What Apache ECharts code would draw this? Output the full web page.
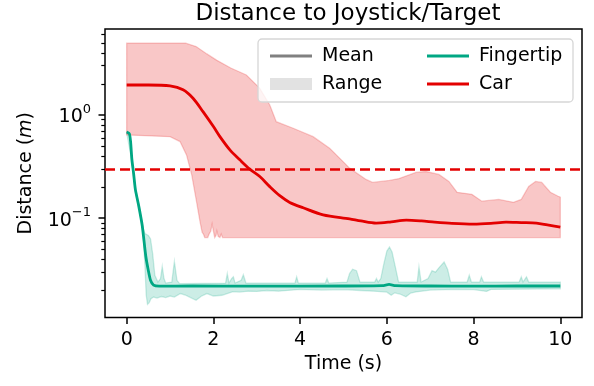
<!DOCTYPE html>
<html><head><meta charset="utf-8">
<script src="https://cdn.jsdelivr.net/npm/echarts@6/dist/echarts.min.js"></script>
<style>html,body{margin:0;padding:0;background:#fff}#c{width:594px;height:386px}</style>
</head><body><div id="c"></div>
<script>
// ---------- data ----------
const xTicks = [0, 2, 4, 6, 8, 10];
const yMajorTicks = [0.1, 1];
const yMinorTicks = [0.02,0.03,0.04,0.05,0.06,0.07,0.08,0.09,0.2,0.3,0.4,0.5,0.6,0.7,0.8,0.9,2,3,4,5,6];
const threshold = 0.3;

const carTime = [0,0.5,1.0,1.3,1.53,1.76,2.0,2.15,2.38,2.61,2.84,3.07,3.3,3.53,3.76,4.07,4.53,5.14,5.4,5.75,6.1,6.45,6.8,7.1,7.5,8.0,8.4,8.75,9.1,9.45,9.7,10.0];
const carMean = [1.95,1.95,1.91,1.75,1.45,1.076,0.771,0.616,0.458,0.367,0.298,0.253,0.202,0.165,0.142,0.126,0.1077,0.0984,0.094,0.0895,0.092,0.0957,0.094,0.0915,0.089,0.0876,0.089,0.0915,0.0905,0.0895,0.086,0.0819];

const carUpperTime = [0,1.36,1.6,1.85,2.08,2.4,2.76,3.07,3.3,3.45,3.84,4.3,4.68,4.99,5.14,5.52,5.67,6.06,6.28,6.67,6.9,7.2,7.43,7.62,7.96,8.19,8.58,8.92,9.1,9.27,9.43,9.57,9.77,9.95,10];
const carUpper = [4.95,4.95,4.6,3.9,3.38,2.85,2.44,1.81,1.25,0.861,0.743,0.616,0.476,0.353,0.305,0.237,0.222,0.232,0.242,0.277,0.283,0.265,0.227,0.178,0.17,0.146,0.152,0.1425,0.152,0.203,0.227,0.222,0.178,0.163,0.16];
const carLowerTime = [0,1.0,1.23,1.38,1.5,1.61,1.69,1.74,1.77,1.8,1.87,1.9,1.94,1.97,2.0,2.03,2.06,2.08,2.11,2.15,2.18,2.21,10];
const carLower = [0.64,0.616,0.552,0.41,0.263,0.145,0.093,0.073,0.07,0.0648,0.0648,0.07,0.075,0.0876,0.075,0.0648,0.068,0.075,0.0665,0.0648,0.07,0.0648,0.0648];

const fingerTime = [0,0.06,0.09,0.12,0.16,0.2,0.28,0.36,0.44,0.5,0.55,0.62,0.75,1.5,3,5,5.9,6.05,6.2,7,8,9,10];
const fingerMean = [0.684,0.66,0.55,0.37,0.27,0.19,0.13,0.084,0.043,0.031,0.025,0.0224,0.0219,0.022,0.0219,0.022,0.0222,0.0228,0.0222,0.022,0.0219,0.022,0.022];

const fingerUpperTime = [0,0.12,0.2,0.3,0.38,0.42,0.5,0.55,0.6,0.65,0.72,0.78,0.82,0.86,0.9,1.04,1.1,1.16,1.22,2.28,2.32,2.36,2.42,2.46,2.5,2.64,2.69,2.75,3.88,3.92,3.96,4.58,4.62,4.66,5.08,5.14,5.21,5.3,5.38,5.72,5.76,5.8,5.86,5.93,6.0,6.06,6.12,6.2,6.27,6.7,6.74,6.79,6.95,7.04,7.12,7.2,7.32,7.4,7.47,7.85,7.9,7.95,8.14,8.18,8.23,9.05,9.1,9.14,9.22,9.27,10];
const fingerUpper = [0.7,0.38,0.2,0.12,0.08,0.071,0.068,0.063,0.045,0.028,0.024,0.026,0.034,0.026,0.0235,0.024,0.038,0.025,0.0232,0.0235,0.029,0.0235,0.026,0.027,0.0235,0.025,0.0283,0.0235,0.0235,0.027,0.0235,0.0235,0.026,0.0235,0.024,0.029,0.032,0.031,0.024,0.024,0.026,0.024,0.026,0.036,0.048,0.0526,0.047,0.033,0.024,0.024,0.0337,0.024,0.026,0.031,0.03,0.033,0.0376,0.032,0.024,0.024,0.028,0.024,0.024,0.027,0.024,0.024,0.027,0.024,0.027,0.024,0.024];
const fingerLowerTime = [0,0.12,0.2,0.3,0.38,0.42,0.45,0.48,0.52,0.56,0.62,0.7,0.8,0.9,1.0,1.1,1.24,1.35,1.45,1.6,1.72,1.85,2.0,2.2,2.45,2.6,2.8,3.0,3.23,3.5,4.0,4.5,5.0,5.4,5.7,6.0,6.1,6.18,6.3,6.44,6.55,6.67,7.0,7.5,8.0,8.3,8.4,9.0,10];
const fingerLower = [0.67,0.36,0.18,0.115,0.07,0.035,0.018,0.0146,0.0152,0.0166,0.0172,0.0168,0.0174,0.017,0.0176,0.0172,0.0186,0.018,0.0172,0.016,0.0175,0.0186,0.0176,0.0179,0.0194,0.0192,0.0196,0.0195,0.0199,0.0196,0.0204,0.0201,0.0203,0.0199,0.0196,0.0192,0.0179,0.0189,0.0184,0.0173,0.0188,0.0193,0.0201,0.0204,0.0203,0.0195,0.0204,0.0205,0.0207];

// ---------- style ----------
const RED = '#e30000';
const TEAL = '#00a783';
const GRAY = '#808080';
const FONT = 'DejaVu Sans';
const FS = 19;
const LINE_ICON = 'path://M0,0H100V7H0Z';

const zip = (a, b) => a.map((v, i) => [v, b[i]]);

function band(name, upT, up, loT, lo, fill, stroke) {
  return {
    type: 'custom', name: name, silent: true, z: 1,
    data: [[upT[0], up[0]]],
    renderItem: function (params, api) {
      const pts = [];
      for (let i = 0; i < upT.length; i++) pts.push(api.coord([upT[i], up[i]]));
      for (let i = loT.length - 1; i >= 0; i--) pts.push(api.coord([loT[i], lo[i]]));
      return { type: 'polygon', shape: { points: pts }, style: { fill: fill, stroke: stroke, lineWidth: 1.3 } };
    }
  };
}

function supLabel(v) {
  const e = Math.round(Math.log10(v));
  return '{b|10}{s|' + (e < 0 ? '\u2212' + (-e) : e) + '}';
}

const legendText = { fontSize: FS, fontFamily: FONT, color: '#000', lineHeight: 22, padding: [0, 0, 0, 5] };

const chart = echarts.init(document.getElementById('c'), null, { renderer: 'canvas' });
chart.setOption({
  animation: false,
  textStyle: { fontFamily: FONT, color: '#000' },
  title: {
    text: 'Distance to Joystick/Target', left: 343, top: -2, textAlign: 'center',
    textStyle: { fontFamily: FONT, fontSize: 23, fontWeight: 'normal', color: '#000' }
  },
  grid: { left: 105, top: 29, width: 477, height: 288.5, show: true, borderColor: '#000', borderWidth: 1.5, backgroundColor: 'transparent', containLabel: false },
  xAxis: {
    type: 'value', min: -0.5, max: 10.5,
    axisLine: { show: false, onZero: false },
    axisTick: { show: true, customValues: xTicks, length: 6.5, lineStyle: { color: '#000', width: 1.5 } },
    axisLabel: { customValues: xTicks, fontSize: FS, color: '#000', fontFamily: FONT, margin: 13 },
    splitLine: { show: false },
    name: 'Time (s)', nameLocation: 'middle', nameGap: 37,
    nameTextStyle: { fontSize: FS, color: '#000', fontFamily: FONT }
  },
  yAxis: [{
    type: 'log', logBase: 10, min: 0.0109, max: 6.8, position: 'left',
    axisLine: { show: false, onZero: false },
    axisTick: { show: true, customValues: yMajorTicks, length: 6.5, lineStyle: { color: '#000', width: 1.5 } },
    axisLabel: {
      customValues: yMajorTicks, margin: 14, formatter: supLabel,
      rich: {
        b: { fontSize: FS, fontFamily: FONT, color: '#000', lineHeight: 24, verticalAlign: 'bottom' },
        s: { fontSize: 13, fontFamily: FONT, color: '#000', lineHeight: 14, verticalAlign: 'top' }
      }
    },
    splitLine: { show: false }, minorTick: { show: false },
    name: 'Distance ({i|m})', nameLocation: 'middle', nameGap: 69, nameRotate: 90,
    nameTextStyle: { fontSize: FS, color: '#000', fontFamily: FONT,
      rich: { i: { fontSize: FS, fontStyle: 'italic', fontFamily: FONT, color: '#000' } } }
  }, {
    type: 'log', logBase: 10, min: 0.0109, max: 6.8, position: 'left', offset: 0,
    axisLine: { show: false, onZero: false },
    axisTick: { show: true, customValues: yMinorTicks, length: 3.7, lineStyle: { color: '#000', width: 1.2 } },
    axisLabel: { show: false }, splitLine: { show: false }
  }],
  legend: [{
    data: [{ name: 'Mean', icon: LINE_ICON, itemStyle: { color: GRAY } },
           { name: 'Range', icon: 'rect', itemStyle: { color: '#e2e2e2' } }],
    orient: 'vertical', left: 265, top: 40, itemWidth: 42, itemHeight: 12, itemGap: 6,
    selectedMode: false, z: 60, textStyle: legendText
  }, {
    data: [{ name: 'Fingertip', icon: LINE_ICON, itemStyle: { color: TEAL } },
           { name: 'Car', icon: LINE_ICON, itemStyle: { color: RED } }],
    orient: 'vertical', left: 422, top: 40, itemWidth: 42, itemHeight: 12, itemGap: 6,
    selectedMode: false, z: 60, textStyle: legendText
  }],
  graphic: [{
    type: 'rect', z: 50, silent: true,
    shape: { x: 258, y: 39, width: 315, height: 63, r: 4 },
    style: { fill: 'rgba(255,255,255,0.8)', stroke: '#d6d6d6', lineWidth: 1.3 }
  }],
  series: [
    { type: 'line', name: 'Mean', data: [], symbol: 'none', color: GRAY, lineStyle: { width: 2.8, color: GRAY } },
    { type: 'line', name: 'Range', data: [], symbol: 'none', color: '#e2e2e2' },
    band('Fingertip range', fingerUpperTime, fingerUpper, fingerLowerTime, fingerLower, 'rgba(0,167,131,0.2)', 'rgba(0,167,131,0.2)'),
    band('Car range', carUpperTime, carUpper, carLowerTime, carLower, 'rgba(227,0,0,0.22)', 'rgba(227,0,0,0.2)'),
    { type: 'line', name: 'Fingertip', data: zip(fingerTime, fingerMean), symbol: 'none', showSymbol: false,
      color: TEAL, lineStyle: { width: 2.8, color: TEAL }, smooth: 0.2, z: 3 },
    { type: 'line', name: 'Car', data: zip(carTime, carMean), symbol: 'none', showSymbol: false,
      color: RED, lineStyle: { width: 2.8, color: RED }, smooth: 0.3, z: 3,
      markLine: { symbol: 'none', silent: true, label: { show: false },
        lineStyle: { color: RED, type: [10, 5], width: 2.6 }, data: [{ yAxis: threshold }] } }
  ]
});
</script></body></html>
